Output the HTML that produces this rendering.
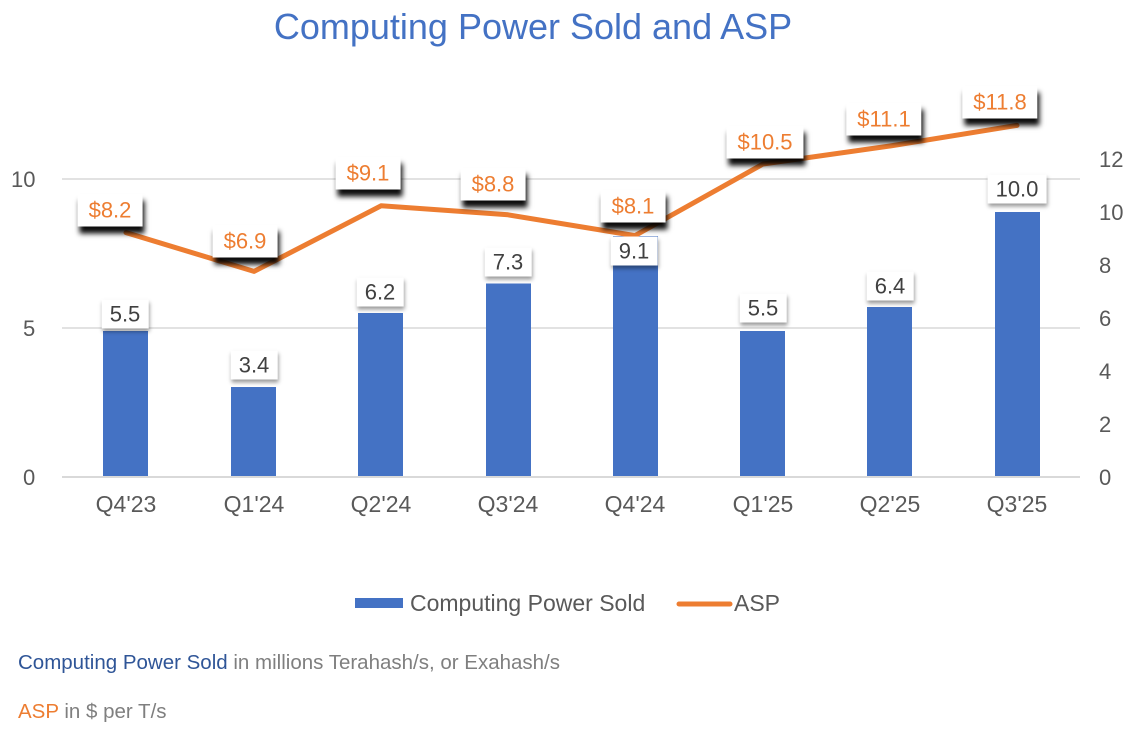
<!DOCTYPE html>
<html>
<head>
<meta charset="utf-8">
<style>
  html,body{margin:0;padding:0;background:#fff;}
  body{width:1144px;height:748px;position:relative;overflow:hidden;font-family:"Liberation Sans",Arial,sans-serif;}
  .t{position:absolute;white-space:nowrap;}
  .title{left:0;width:1066px;text-align:center;top:6px;font-size:36px;color:#4472C4;}
  .ax{font-size:22px;color:#595959;line-height:22px;}
  .cat{font-size:23px;color:#595959;line-height:23px;transform:translateX(-50%);top:493px;}
  .lab{position:absolute;background:#fff;text-align:center;font-size:22px;white-space:nowrap;transform:translate(-50%,-50%);}
  .asp{color:#ED7D31;height:33px;line-height:33px;padding:0 11px;box-shadow:2px 7px 5px rgba(0,0,0,0.95);}
  .bar{color:#404040;height:29px;line-height:29px;padding:0 8px;box-shadow:1px 3px 4px rgba(0,0,0,0.4);}
</style>
</head>
<body>
<div class="t title">Computing Power Sold and ASP</div>

<svg width="1144" height="748" style="position:absolute;left:0;top:0">
  <line x1="62" y1="179" x2="1080" y2="179" stroke="#d9d9d9" stroke-width="1.5"/>
  <line x1="62" y1="328" x2="1080" y2="328" stroke="#d9d9d9" stroke-width="1.5"/>
  <g fill="#4472C4">
    <rect x="103" y="331" width="45" height="146"/>
    <rect x="231" y="387" width="45" height="90"/>
    <rect x="358" y="313" width="45" height="164"/>
    <rect x="486" y="283.5" width="45" height="193.5"/>
    <rect x="613" y="236" width="45" height="241"/>
    <rect x="740" y="331" width="45" height="146"/>
    <rect x="867" y="307" width="45" height="170"/>
    <rect x="995" y="212" width="45" height="265"/>
  </g>
  <line x1="62" y1="477" x2="1080" y2="477" stroke="#d9d9d9" stroke-width="2"/>
  <polyline fill="none" stroke="#ED7D31" stroke-width="5" stroke-linejoin="round" stroke-linecap="round"
    points="126,232.6 254,271.4 381,205.8 508,214.8 635,235.6 763,164 890,146 1017,125.4"/>
  <rect x="355" y="598" width="48" height="10" fill="#4472C4"/>
  <line x1="679" y1="604" x2="730" y2="604" stroke="#ED7D31" stroke-width="5" stroke-linecap="round"/>
</svg>

<!-- left axis -->
<div class="t ax" style="left:11px;top:169px;">10</div>
<div class="t ax" style="left:23px;top:318px;">5</div>
<div class="t ax" style="left:23px;top:467px;">0</div>
<!-- right axis -->
<div class="t ax" style="left:1099px;top:149px;">12</div>
<div class="t ax" style="left:1099px;top:202px;">10</div>
<div class="t ax" style="left:1099px;top:255px;">8</div>
<div class="t ax" style="left:1099px;top:308px;">6</div>
<div class="t ax" style="left:1099px;top:361px;">4</div>
<div class="t ax" style="left:1099px;top:414px;">2</div>
<div class="t ax" style="left:1099px;top:467px;">0</div>
<!-- categories -->
<div class="t cat" style="left:126px;">Q4'23</div>
<div class="t cat" style="left:254px;">Q1'24</div>
<div class="t cat" style="left:381px;">Q2'24</div>
<div class="t cat" style="left:508px;">Q3'24</div>
<div class="t cat" style="left:635px;">Q4'24</div>
<div class="t cat" style="left:763px;">Q1'25</div>
<div class="t cat" style="left:890px;">Q2'25</div>
<div class="t cat" style="left:1017px;">Q3'25</div>

<!-- bar labels -->
<div class="lab bar" style="left:125px;top:314px;">5.5</div>
<div class="lab bar" style="left:254px;top:365px;">3.4</div>
<div class="lab bar" style="left:380px;top:292px;">6.2</div>
<div class="lab bar" style="left:508px;top:262px;">7.3</div>
<div class="lab bar" style="left:634px;top:251px;">9.1</div>
<div class="lab bar" style="left:763px;top:308px;">5.5</div>
<div class="lab bar" style="left:890px;top:286px;">6.4</div>
<div class="lab bar" style="left:1017px;top:189px;">10.0</div>

<!-- ASP labels -->
<div class="lab asp" style="left:110px;top:210px;">$8.2</div>
<div class="lab asp" style="left:245px;top:241px;">$6.9</div>
<div class="lab asp" style="left:368px;top:173px;">$9.1</div>
<div class="lab asp" style="left:493px;top:184px;">$8.8</div>
<div class="lab asp" style="left:633px;top:206px;">$8.1</div>
<div class="lab asp" style="left:765px;top:142px;">$10.5</div>
<div class="lab asp" style="left:884px;top:119px;">$11.1</div>
<div class="lab asp" style="left:1000px;top:102px;">$11.8</div>

<!-- legend text -->
<div class="t" style="left:410px;top:592px;font-size:23px;line-height:23px;color:#595959;">Computing Power Sold</div>
<div class="t" style="left:734px;top:592px;font-size:23px;line-height:23px;color:#595959;">ASP</div>

<!-- footnotes -->
<div class="t" style="left:18px;top:652px;font-size:20.5px;line-height:21px;color:#7f7f7f;"><span style="color:#2F5597;">Computing Power Sold</span> in millions Terahash/s, or Exahash/s</div>
<div class="t" style="left:18px;top:701px;font-size:20.5px;line-height:21px;color:#7f7f7f;"><span style="color:#ED7D31;">ASP</span> in $ per T/s</div>
</body>
</html>
